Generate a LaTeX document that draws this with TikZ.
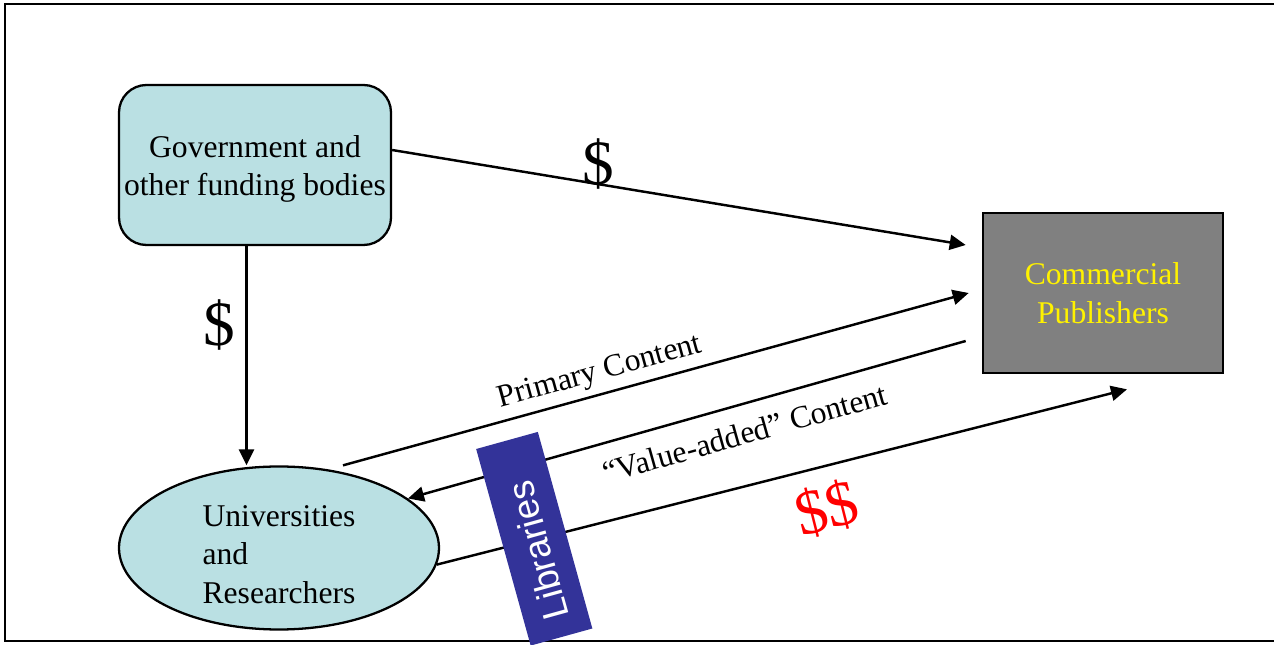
\documentclass[tikz,border=0pt]{standalone}
\usepackage{fontspec}
\setmainfont{Liberation Serif}
\setsansfont{Liberation Sans}
\usetikzlibrary{arrows.meta,shapes,calc}

\definecolor{paleblue}{RGB}{186,224,227}
\definecolor{pubgray}{RGB}{128,128,128}
\definecolor{libblue}{RGB}{51,51,153}

\begin{document}
\begin{tikzpicture}[
  fundbox/.style={draw,line width=1.3pt,fill=paleblue,rounded corners=0.55cm,
    minimum width=5.44cm,minimum height=3.2cm,align=center,inner sep=0pt,
    font=\fontsize{18}{22}\selectfont},
  pubbox/.style={draw,line width=1.5pt,fill=pubgray,text=yellow,
    minimum width=4.8cm,minimum height=3.2cm,align=center,
    font=\fontsize{18}{22}\selectfont},
  unibox/.style={draw,ellipse,line width=1.3pt,fill=paleblue,inner sep=0pt,
    minimum width=6.4cm,minimum height=3.26cm,align=left,
    font=\fontsize{18}{22}\selectfont},
  flow/.style={line width=1.4pt,-{Triangle[length=0.32cm,width=0.3cm]}},
  flowtext/.style={font=\fontsize{18}{22}\selectfont,sloped},
  money/.style={font=\fontsize{36}{40}\selectfont,inner sep=0pt},
  libbar/.style={fill=libblue,text=white,rotate=105.5,inner sep=0pt,
    minimum width=4.08cm,minimum height=1.28cm,
    font=\sffamily\fontsize{21}{24}\selectfont}]
\useasboundingbox (0,0) rectangle (25.48,12.9);

% frame
\draw[line width=1.1pt] (25.48,12.82) -- (0.1,12.82) -- (0.1,0.08) -- (25.48,0.08);

\node[fundbox] (gov) at (5.1,9.6) {\rule{0pt}{0.6cm}Government and\\other funding bodies};
\node[pubbox] (pub) at (22.06,7.04) {Commercial\\Publishers};
\node[unibox] (uni) at (5.58,1.94) {\rule{0pt}{0.68cm}Universities\\and\\Researchers};

\draw[flow] ([yshift=0.3cm]gov.east) -- ([xshift=-0.32cm,yshift=0.96cm]pub.west)
  node[money,pos=0.36,yshift=0.4cm] (m1) {\$};
\draw[flow] ([xshift=-0.17cm]gov.south) -- ([xshift=-0.17cm]gov.south |- uni.north)
  node[money,pos=0.36,left=0.2cm] (m2) {\$};
\draw[flow] ([xshift=1.28cm]uni.north) -- ([xshift=-0.26cm]pub.west)
  node[flowtext,pos=0.42,above] (prim) {Primary Content};
\draw[flow] ([xshift=-0.32cm,yshift=-0.96cm]pub.west) -- (uni.21)
  node[flowtext,pos=0.41,below=6pt] (vadd) {``Value-added'' Content};
\draw[flow] (uni.-6) -- ([xshift=0.48cm,yshift=-0.3cm]pub.south)
  node[money,sloped,pos=0.55,below=0.3cm,text=red] (m3) {\$\$};

\node[libbar] (lib) at (10.685,2.125) {Libraries\hspace*{0.5cm}};

\end{tikzpicture}
\end{document}
